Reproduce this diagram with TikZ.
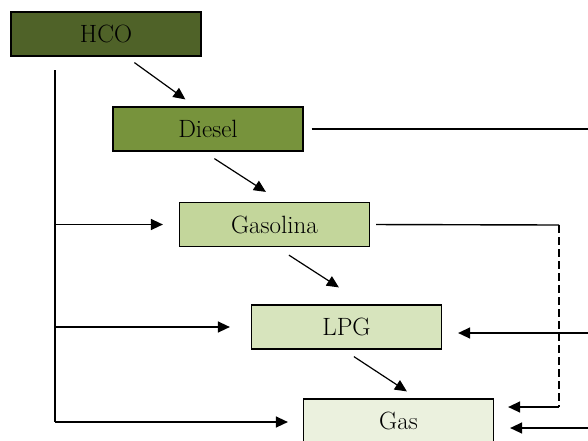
\documentclass[tikz,border=0pt]{standalone}
\usetikzlibrary{arrows.meta,calc}
\definecolor{cHCO}{HTML}{4F6228}
\definecolor{cDiesel}{HTML}{77933C}
\definecolor{cGasolina}{HTML}{C3D69B}
\definecolor{cLPG}{HTML}{D7E4BD}
\definecolor{cGas}{HTML}{EBF1DE}
\begin{document}
\begin{tikzpicture}[x=1pt,y=-1pt,
  box/.style={draw=black,line width=1.2pt,minimum width=190pt,minimum height=44pt,inner sep=0pt,
    font=\fontsize{25}{30}\selectfont},
  arr/.style={line width=1.4pt,-{Triangle[length=12pt,width=11pt]}},
  ln/.style={line width=1.4pt},
  diag/.style={line width=1.2pt,-{Triangle[length=12pt,width=11pt]}}]
\useasboundingbox (0,0) rectangle (588,440);
\node[box,fill=cHCO] (HCO) at (106,34) {HCO};
\node[box,fill=cDiesel] (Diesel) at (208,129) {Diesel};
\node[box,fill=cGasolina] (Gasolina) at (274.5,224.5) {Gasolina};
\node[box,fill=cLPG] (LPG) at (346.5,327) {LPG};
\node[box,fill=cGas] (Gas) at (398.5,421) {Gas};
% diagonal arrows
\draw[diag] ($(HCO.south west)+(124,6)$) -- ($(Diesel.north west)+(73,-7)$);
\draw[diag] ($(Diesel.south west)+(102,7)$) -- ($(Gasolina.north west)+(87,-10)$);
\draw[diag] ($(Gasolina.south west)+(110,8)$) -- ($(LPG.north west)+(88,-17)$);
\draw[diag] ($(LPG.south west)+(103,7)$) -- ($(Gas.north west)+(104,-7)$);
% left trunk
\coordinate (t0) at (55,70);
\coordinate (t1) at (55,422);
\draw[ln] (t0) -- (t1);
\draw[arr,shorten >=16pt] (t0 |- Gasolina.west) -- (Gasolina.west);
\draw[arr,shorten >=21pt] (t0 |- LPG.west) -- (LPG.west);
\draw[arr,shorten >=15pt] (t1) -- (t1 -| Gas.west);
% right side
\coordinate (dR) at (588,129);
\draw[ln,shorten <=8pt] (Diesel.east) -- (dR);
\coordinate (gR) at (559,225);
\coordinate (gD) at (559,407);
\draw[ln,shorten <=6pt] (Gasolina.east) -- (gR);
\draw[ln,dashed,dash pattern=on 8pt off 4pt] (gR) -- (gD);
\draw[arr,shorten >=14pt] (gD) -- (gD -| Gas.east);
\coordinate (lR) at (588,333);
\draw[arr,shorten >=16pt] (lR) -- (lR -| LPG.east);
\coordinate (gasR) at (588,428);
\draw[arr,shorten >=16pt] (gasR) -- (gasR -| Gas.east);
\end{tikzpicture}
\end{document}
